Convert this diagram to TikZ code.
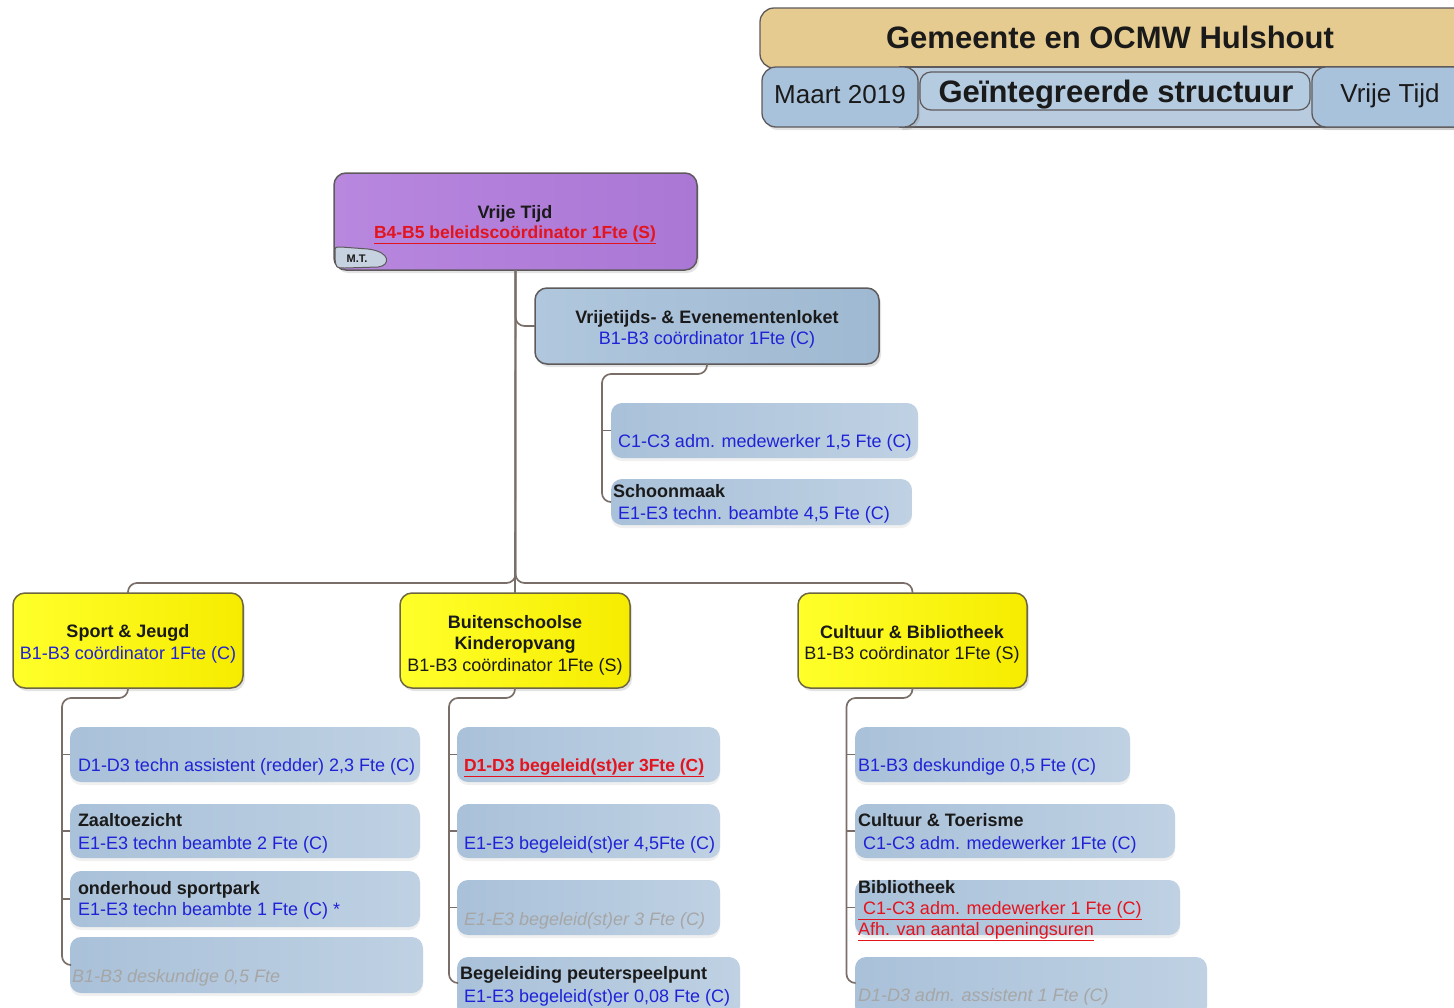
\documentclass[tikz,border=0pt]{standalone}
\usepackage{fontspec}
\setmainfont{Liberation Sans}
\usetikzlibrary{shadows}
\definecolor{linec}{HTML}{7A6E68}
\definecolor{bordc}{HTML}{5E5A5C}
\definecolor{ybord}{HTML}{6E6640}
\definecolor{txtblue}{HTML}{1F22D6}
\definecolor{txtred}{HTML}{E3141E}
\definecolor{txtgray}{HTML}{A6A6A6}
\definecolor{txtblack}{HTML}{1A1A1A}
\definecolor{goldc}{HTML}{E5CB8F}
\definecolor{hblue}{HTML}{A9C2DC}
\definecolor{hstrip}{HTML}{B9CCDF}
\definecolor{hinner}{HTML}{B5CBE0}
\definecolor{lbl}{HTML}{A9C1D9}
\definecolor{lbr}{HTML}{BFD1E3}
\definecolor{purl}{HTML}{B887DE}
\definecolor{purr}{HTML}{AA77D5}
\definecolor{yl}{HTML}{FFFF2A}
\definecolor{yr}{HTML}{F6EC00}
\definecolor{lkl}{HTML}{B0C7DD}
\definecolor{lkr}{HTML}{9FB9D2}
\definecolor{mtc}{HTML}{C6D2E0}
\begin{document}
\begin{tikzpicture}[x=1pt,y=-1pt,
  every node/.style={inner sep=0pt, outer sep=0pt, font=\fontsize{18}{22}\selectfont, text=txtblack},
  conn/.style={draw=linec, line width=1.7pt, rounded corners=9pt},
  tick/.style={draw=linec, line width=1.7pt},
  shad/.style={drop shadow={opacity=0.22, shadow xshift=2pt, shadow yshift=-3pt}},
  softshad/.style={drop shadow={opacity=0.12, shadow xshift=0pt, shadow yshift=-3pt}},
  hbox/.style={draw=bordc, line width=1.3pt, rounded corners=14pt, shad},
  purplebox/.style={draw=bordc, line width=1.5pt, rounded corners=12pt, left color=purl, right color=purr, shad, anchor=north west},
  loketbox/.style={draw=bordc, line width=1.5pt, rounded corners=12pt, left color=lkl, right color=lkr, shad, anchor=north west},
  ybox/.style={draw=ybord, line width=1.5pt, rounded corners=12pt, left color=yl, right color=yr, shad, anchor=north west},
  lbox/.style={rounded corners=11pt, left color=lbl, right color=lbr, softshad, anchor=north west},
  bl/.style={text=txtblue},
  rd/.style={text=txtred},
  gr/.style={text=txtgray, font=\fontsize{18}{22}\selectfont\itshape},
  bf/.style={font=\fontsize{18}{22}\selectfont\bfseries},
  ct/.style={yshift=-3.5pt},
  lt/.style={anchor=mid west, yshift=-3.5pt},
]
\useasboundingbox (0,0) rectangle (1454,1007);
\clip (0,0) rectangle (1454,1007);

% ---------------- header ----------------
\node[hbox, fill=goldc, anchor=north west, minimum width=720, minimum height=60] (hgold) at (760,8) {};
\node[font=\fontsize{31}{36}\selectfont\bfseries] (htitle) at (1110,37) {Gemeente en OCMW Hulshout};
\node[draw=bordc, line width=1.2pt, fill=hstrip, anchor=north west, minimum width=560, minimum height=60, shad] (hstrip) at (900,67) {};
\node[hbox, fill=hblue, anchor=north west, minimum width=156, minimum height=60] (hmaart) at (762,67) {};
\node[font=\fontsize{26}{30}\selectfont] (hmaartt) at (840,95) {Maart 2019};
\node[draw=bordc, line width=1.2pt, rounded corners=11pt, fill=hinner, anchor=north west, minimum width=390, minimum height=38] (hgeint) at (920,72) {};
\node[font=\fontsize{31}{36}\selectfont\bfseries] (hgeintt) at (1116,95) {Geïntegreerde structuur};
\node[hbox, fill=hblue, anchor=north west, minimum width=160, minimum height=60] (hvt) at (1312,67) {};
\node[font=\fontsize{26}{30}\selectfont] (hvtt) at (1390,96) {Vrije Tijd};

% ---------------- boxes ----------------
\node[purplebox, minimum width=363, minimum height=97] (vt) at (334,173) {};
\node[bf, ct] (vt1) at (515,210) {Vrije Tijd};
\node[rd, ct, font=\fontsize{17.5}{22}\selectfont\bfseries] (vt2) at (515,231) {\underline{B4-B5 beleidscoördinator 1Fte (S)}};
\filldraw[draw=bordc, line width=1pt, fill=mtc] (335,258) -- (335,252) .. controls (335,247) .. (341,247) -- (368,249) .. controls (392,252) and (390,266) .. (378,267) -- (345,268) .. controls (336,268) .. (335,258) -- cycle;
\node[font=\fontsize{11}{12}\selectfont\bfseries] (mt) at (357,259) {M.T.};

\node[loketbox, minimum width=344, minimum height=76] (lk) at (535,288) {};
\node[bf, ct] (lk1) at (707,315) {Vrijetijds- \& Evenementenloket};
\node[bl, ct] (lk2) at (707,336) {B1-B3 coördinator 1Fte (C)};

\node[lbox, minimum width=307, minimum height=55] (l1) at (611,403) {};
\node[lt, bl] (l1t) at (618,441) {C1-C3 adm. medewerker 1,5 Fte (C)};
\node[lbox, minimum width=301, minimum height=46] (l2) at (611,479) {};
\node[lt, bf] (l2a) at (613,491) {Schoonmaak};
\node[lt, bl] (l2b) at (618,513) {E1-E3 techn. beambte 4,5 Fte (C)};

\node[ybox, minimum width=230, minimum height=95] (sj) at (13,593) {};
\node[bf, ct] (sj1) at (128,629) {Sport \& Jeugd};
\node[bl, ct] (sj2) at (128,651) {B1-B3 coördinator 1Fte (C)};

\node[ybox, minimum width=230, minimum height=95] (bk) at (400,593) {};
\node[bf, ct] (bk1) at (515,619) {Buitenschoolse};
\node[bf, ct] (bk2) at (515,641) {Kinderopvang};
\node[ct] (bk3) at (515,663) {B1-B3 coördinator 1Fte (S)};

\node[ybox, minimum width=229, minimum height=95] (cb) at (798,593) {};
\node[bf, ct] (cb1) at (912,629) {Cultuur \& Bibliotheek};
\node[ct] (cb2) at (912,651) {B1-B3 coördinator 1Fte (S)};

% sport children
\node[lbox, minimum width=350, minimum height=55] (s1) at (70,727) {};
\node[lt, bl] (s1t) at (78,765) {D1-D3 techn assistent (redder) 2,3 Fte (C)};
\node[lbox, minimum width=350, minimum height=54] (s2) at (70,804) {};
\node[lt, bf] (s2a) at (78,820) {Zaaltoezicht};
\node[lt, bl] (s2b) at (78,843) {E1-E3 techn beambte 2 Fte (C)};
\node[lbox, minimum width=350, minimum height=56] (s3) at (70,871) {};
\node[lt, bf] (s3a) at (78,888) {onderhoud sportpark};
\node[lt, bl] (s3b) at (78,909) {E1-E3 techn beambte 1 Fte (C) *};
\node[lbox, minimum width=353, minimum height=56] (s4) at (70,937) {};
\node[lt, gr] (s4t) at (72,976) {B1-B3 deskundige 0,5 Fte};

% buitenschoolse children
\node[lbox, minimum width=263, minimum height=55] (b1) at (457,727) {};
\node[lt, rd, font=\fontsize{17.5}{22}\selectfont\bfseries] (b1t) at (464,765) {\underline{D1-D3 begeleid(st)er 3Fte (C)}};
\node[lbox, minimum width=263, minimum height=54] (b2) at (457,804) {};
\node[lt, bl] (b2t) at (464,843) {E1-E3 begeleid(st)er 4,5Fte (C)};
\node[lbox, minimum width=263, minimum height=55] (b3) at (457,880) {};
\node[lt, gr] (b3t) at (464,919) {E1-E3 begeleid(st)er 3 Fte (C)};
\node[lbox, minimum width=283, minimum height=60] (b4) at (457,957) {};
\node[lt, bf] (b4a) at (460,973) {Begeleiding peuterspeelpunt};
\node[lt, bl] (b4b) at (464,996) {E1-E3 begeleid(st)er 0,08 Fte (C)};

% cultuur children
\node[lbox, minimum width=275, minimum height=55] (c1) at (855,727) {};
\node[lt, bl] (c1t) at (858,765) {B1-B3 deskundige 0,5 Fte (C)};
\node[lbox, minimum width=320, minimum height=54] (c2) at (855,804) {};
\node[lt, bf] (c2a) at (858,820) {Cultuur \& Toerisme};
\node[lt, bl] (c2b) at (863,843) {C1-C3 adm. medewerker 1Fte (C)};
\node[lbox, minimum width=325, minimum height=55] (c3) at (855,880) {};
\node[lt, bf] (c3a) at (858,887) {Bibliotheek};
\node[lt, rd] (c3b) at (858,908) {\underline{\ C1-C3 adm. medewerker 1 Fte (C)}};
\node[lt, rd] (c3c) at (858,929) {\underline{Afh. van aantal openingsuren}};
\node[lbox, minimum width=352, minimum height=60] (c4) at (855,957) {};
\node[lt, gr] (c4t) at (858,995) {D1-D3 adm. assistent 1 Fte (C)};

% ---------------- connectors ----------------
\draw[tick] (vt.south) -- (bk.north);
\draw[conn] (vt.south) |- (lk.west);
\draw[conn] (vt.south) -- ++(0,313) -| (sj.north);
\draw[conn] (vt.south) -- ++(0,313) -| (cb.north);

\draw[conn] (lk.south) -- ++(0,10) -- ++(-105,0) |- (l2.west);
\draw[tick] (l1.west) -- ++(-9,0);

\draw[conn] (sj.south) -- ++(0,10) -- ++(-66,0) |- (s4.west);
\draw[tick] (s1.west) -- ++(-8,0);
\draw[tick] (s2.west) -- ++(-8,0);
\draw[tick] (s3.west) -- ++(-8,0);

\draw[conn] (bk.south) -- ++(0,10) -- ++(-66,0) |- ([yshift=4pt]b4.west);
\draw[tick] (b1.west) -- ++(-8,0);
\draw[tick] (b2.west) -- ++(-8,0);
\draw[tick] (b3.west) -- ++(-8,0);

\draw[conn] (cb.south) -- ++(0,10) -- ++(-66,0) |- ([yshift=4pt]c4.west);
\draw[tick] (c1.west) -- ++(-9,0);
\draw[tick] (c2.west) -- ++(-9,0);
\draw[tick] (c3.west) -- ++(-9,0);
\end{tikzpicture}
\end{document}
